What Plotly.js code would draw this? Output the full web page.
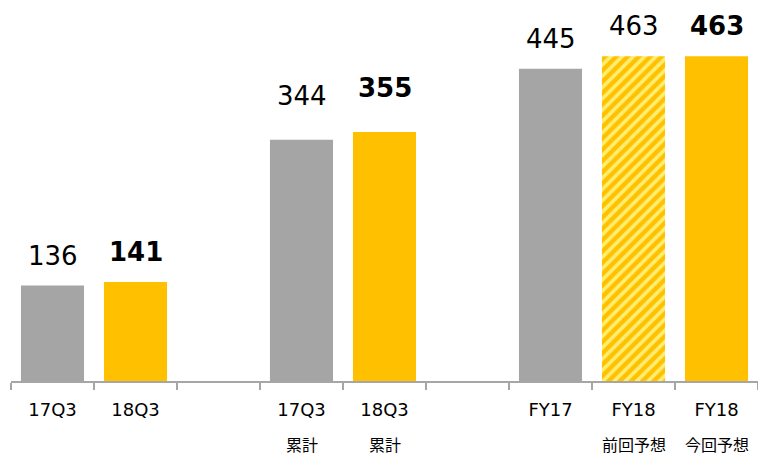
<!DOCTYPE html>
<html>
<head>
<meta charset="utf-8">
<script src="https://cdn.plot.ly/plotly-3.0.1.min.js"></script>
<style>html,body{margin:0;padding:0;background:#fff;}#chart{width:758px;height:457px;}</style>
</head>
<body>
<div id="chart"></div>
<script>
// categories (gap slots included to reproduce spacing)
const categories = ["17Q3", "18Q3", "gap1", "17Q3累計", "18Q3累計", "gap2", "FY17", "FY18前回予想", "FY18今回予想"];
const tickLine1 = ["17Q3", "18Q3", "", "17Q3", "18Q3", "", "FY17", "FY18", "FY18"];
const tickLine2 = ["", "", "", "累計", "累計", "", "", "前回予想", "今回予想"];
const barCats = ["17Q3", "18Q3", "17Q3累計", "18Q3累計", "FY17", "FY18前回予想", "FY18今回予想"];
const values = [136, 141, 344, 355, 445, 463, 463];
const boldLabel = [false, true, false, true, false, false, true];
const barKind = ["gray", "yellow", "gray", "yellow", "gray", "hatch", "yellow"];

const GRAY = "#a5a5a5", YELLOW = "#ffc000", LIGHT = "#ffee70";
const FONT = "DejaVu Sans, Noto Sans CJK JP, sans-serif";

function makeTrace(kind) {
  const idx = barKind.map((k, i) => k === kind ? i : -1).filter(i => i >= 0);
  const t = {
    type: "bar",
    x: idx.map(i => barCats[i]),
    y: idx.map(i => values[i]),
    marker: {color: kind === "gray" ? GRAY : YELLOW, line: {width: 0}},
    hoverinfo: "none"
  };
  if (kind === "hatch") {
    t.marker.pattern = {shape: "/", bgcolor: YELLOW, fgcolor: LIGHT, fgopacity: 1, size: 8, solidity: 0.45, fillmode: "overlay"};
  }
  return t;
}
const traces = ["gray", "yellow", "hatch"].map(makeTrace);

const annotations = [];
barCats.forEach((c, i) => {
  const inCumulative = c.indexOf("累計") >= 0;
  annotations.push({
    x: c, y: values[i], xref: "x", yref: "y",
    text: boldLabel[i] ? "<b>" + values[i] + "</b>" : String(values[i]),
    showarrow: false, yanchor: "bottom", yshift: inCumulative ? 27 : 13,
    font: {family: FONT, size: 26, color: "#000"}
  });
});
categories.forEach((c, i) => {
  if (tickLine2[i]) {
    annotations.push({
      x: c, y: 0, xref: "x", yref: "paper",
      text: tickLine2[i], showarrow: false, yanchor: "middle", yshift: -64,
      font: {family: FONT, size: 16, color: "#000"}
    });
  }
});

const layout = {
  width: 758, height: 457,
  margin: {l: 11, r: 0, t: 0, b: 76},
  paper_bgcolor: "#fff", plot_bgcolor: "#fff",
  showlegend: false,
  barmode: "overlay",
  bargap: 0.24,
  xaxis: {
    type: "category",
    categoryorder: "array", categoryarray: categories,
    tickvals: categories, ticktext: tickLine1,
    tickson: "boundaries",
    ticks: "outside", ticklen: 7, tickwidth: 1.5, tickcolor: "#a6a6a6",
    showline: true, linecolor: "#a6a6a6", linewidth: 1.5,
    showgrid: false, zeroline: false,
    ticklabelstandoff: 12,
    tickfont: {family: FONT, size: 18, color: "#000"},
    range: [-0.5, 8.5], fixedrange: true
  },
  yaxis: {visible: false, range: [0, 543], showgrid: false, zeroline: false, fixedrange: true},
  annotations: annotations
};

Plotly.newPlot("chart", traces, layout, {displayModeBar: false, staticPlot: true});
</script>
</body>
</html>
